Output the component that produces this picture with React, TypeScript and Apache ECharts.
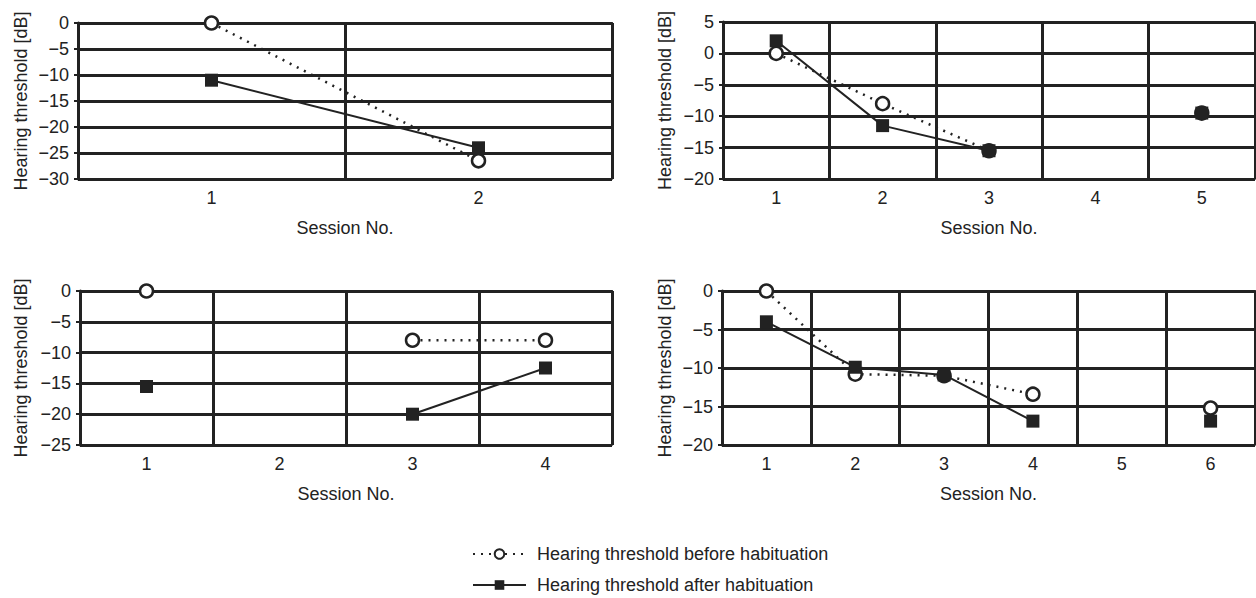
import React, { useEffect, useRef } from "react";
import * as echarts from "echarts";

const BEFORE = "Hearing threshold before habituation";
const AFTER = "Hearing threshold after habituation";
const Y_NAME = "Hearing threshold [dB]";
const X_NAME = "Session No.";

const cats1 = ["1", "2"];
const before1 = [0, -26.5];
const after1 = [-11, -24];

const cats2 = ["1", "2", "3", "4", "5"];
const before2 = [0, -8, -15.5, null, -9.5];
const after2 = [2, -11.5, -15.5, null, -9.5];

const cats3 = ["1", "2", "3", "4"];
const before3 = [0, null, -8, -8];
const after3 = [-15.5, null, -20, -12.5];

const cats4 = ["1", "2", "3", "4", "5", "6"];
const before4 = [0, -10.8, -11, -13.4, null, -15.2];
const after4 = [-4, -9.9, -10.9, -16.9, null, -16.9];

const yRanges = [
  [-30, 0],
  [-20, 5],
  [-25, 0],
  [-20, 0],
];

const INK = "#222";
const FONT = "Liberation Sans, Arial, Helvetica, sans-serif";

export default function App() {
  const ref = useRef<HTMLDivElement>(null);
  useEffect(() => {
    if (!ref.current) return;
    const chart = echarts.init(ref.current, undefined, { renderer: "svg" });
    const grids = [
      { left: 78, top: 23, width: 534, height: 156 },
      { left: 723, top: 22, width: 532, height: 157 },
      { left: 80, top: 291, width: 532, height: 154 },
      { left: 722, top: 291, width: 533, height: 154 },
    ];
    const catsAll = [cats1, cats2, cats3, cats4];
    const beforeAll = [before1, before2, before3, before4];
    const afterAll = [after1, after2, after3, after4];
    const nameGaps = [48, 49, 50, 48];

    const xAxis = catsAll.map((c, i) => ({
      type: "category",
      gridIndex: i,
      data: c,
      boundaryGap: true,
      axisLine: { show: true, lineStyle: { color: INK, width: 2 } },
      axisTick: { show: false },
      axisLabel: { color: INK, fontSize: 18, fontFamily: FONT, margin: 10 },
      splitLine: { show: true, interval: 0, lineStyle: { color: INK, width: 3 } },
      name: X_NAME,
      nameLocation: "middle",
      nameGap: 40,
      nameTextStyle: { color: INK, fontSize: 18, fontFamily: FONT },
    }));

    const yAxis = yRanges.map((r, i) => ({
      type: "value",
      gridIndex: i,
      min: r[0],
      max: r[1],
      interval: 5,
      axisLine: { show: true, lineStyle: { color: INK, width: 3 } },
      axisTick: { show: true, length: 4, lineStyle: { color: INK, width: 2 } },
      axisLabel: {
        color: INK,
        fontSize: 18,
        fontFamily: FONT,
        margin: 9,
        formatter: (v: number) => String(v).replace("-", "\u2212"),
      },
      splitLine: { show: true, lineStyle: { color: INK, width: 3 } },
      name: Y_NAME,
      nameLocation: "middle",
      nameRotate: 90,
      nameGap: nameGaps[i],
      nameTextStyle: { color: INK, fontSize: 18, fontFamily: FONT },
    }));

    const series: any[] = [];
    for (let i = 0; i < 4; i++) {
      series.push({
        type: "line",
        name: BEFORE,
        xAxisIndex: i,
        yAxisIndex: i,
        data: beforeAll[i],
        connectNulls: false,
        symbol: "circle",
        symbolSize: 13,
        showAllSymbol: true,
        lineStyle: { color: INK, width: 2.5, type: [2, 6] },
        itemStyle: { color: "#fff", borderColor: INK, borderWidth: 2.5 },
        z: 3,
      });
      series.push({
        type: "line",
        name: AFTER,
        xAxisIndex: i,
        yAxisIndex: i,
        data: afterAll[i],
        connectNulls: false,
        symbol: "rect",
        symbolSize: 13,
        showAllSymbol: true,
        lineStyle: { color: INK, width: 2 },
        itemStyle: { color: INK, borderColor: INK, borderWidth: 0 },
        z: 4,
      });
    }

    chart.setOption({
      animation: false,
      backgroundColor: "#fff",
      textStyle: { fontFamily: FONT },
      grid: grids.map((g) => ({
        ...g,
        show: true,
        borderColor: INK,
        borderWidth: 1.5,
        backgroundColor: "transparent",
        containLabel: false,
      })),
      xAxis,
      yAxis,
      legend: {
        data: [BEFORE, AFTER],
        orient: "vertical",
        left: 467,
        top: 540,
        height: 90,
        itemWidth: 53,
        itemHeight: 12,
        itemGap: 13,
        textStyle: { color: INK, fontSize: 18, fontFamily: FONT, padding: [0, 0, 0, 6] },
      },
      series,
    });
    return () => chart.dispose();
  }, []);
  return (
    <div
      ref={ref}
      style={{ position: "fixed", left: 0, top: 0, width: 1256, height: 598, background: "#fff" }}
    />
  );
}
